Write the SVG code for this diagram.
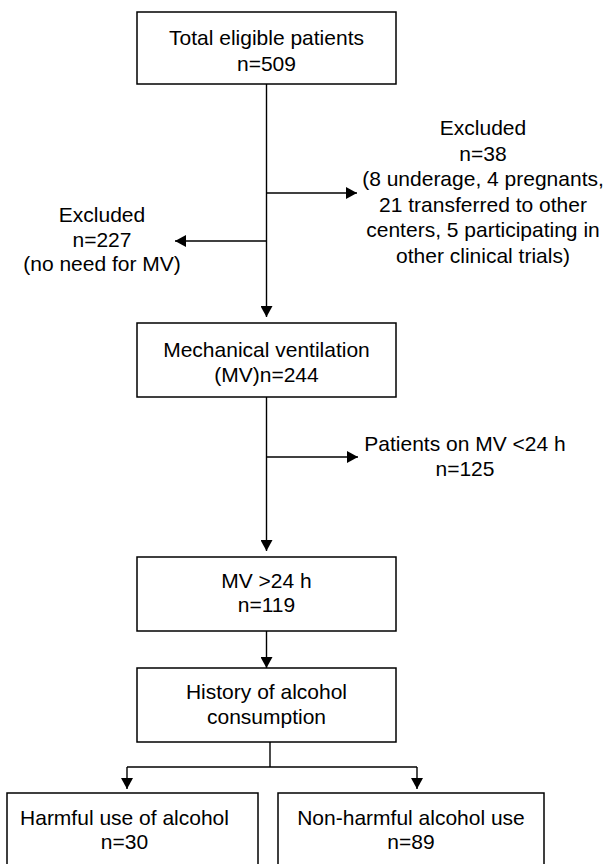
<svg xmlns="http://www.w3.org/2000/svg" width="607" height="864" viewBox="0 0 607 864">
<style>
.box{fill:#fff;stroke:#000;stroke-width:1.5}
.t{font-family:"Liberation Sans",Arial,Helvetica,sans-serif;font-size:21px;fill:#000;text-anchor:middle}
.c{fill:none;stroke:#000;stroke-width:1.4}
</style>
<defs>
<marker id="ah" viewBox="0 0 11 12" refX="11" refY="6" markerWidth="11" markerHeight="12" markerUnits="userSpaceOnUse" orient="auto">
<path d="M0,0 L11,6 L0,12 z" fill="#000"/>
</marker>
</defs>
<rect width="607" height="864" fill="#fff"/>
<g id="connectors">
<path class="c" d="M266.5,84 V317" marker-end="url(#ah)"/>
<path class="c" d="M266.5,193 H357" marker-end="url(#ah)"/>
<path class="c" d="M266.5,241 H175" marker-end="url(#ah)"/>
<path class="c" d="M266.5,397 V551" marker-end="url(#ah)"/>
<path class="c" d="M266.5,457 H358" marker-end="url(#ah)"/>
<path class="c" d="M266.5,631 V668" marker-end="url(#ah)"/>
<path class="c" d="M270,742 V767"/>
<path class="c" d="M127,767 H417"/>
<path class="c" d="M127,767 V789" marker-end="url(#ah)"/>
<path class="c" d="M417,767 V789" marker-end="url(#ah)"/>
</g>
<g id="total">
<rect class="box" x="137" y="12" width="259" height="72"/>
<text class="t" x="266.5" y="45">Total eligible patients</text>
<text class="t" x="266.5" y="71">n=509</text>
</g>
<g id="excluded38">
<text class="t" x="483" y="135">Excluded</text>
<text class="t" x="483" y="160.5">n=38</text>
<text class="t" x="483" y="186">(8 underage, 4 pregnants,</text>
<text class="t" x="483" y="211.5">21 transferred to other</text>
<text class="t" x="483" y="237">centers, 5 participating in</text>
<text class="t" x="483" y="262.5">other clinical trials)</text>
</g>
<g id="excluded227">
<text class="t" x="102" y="222">Excluded</text>
<text class="t" x="102" y="246.5">n=227</text>
<text class="t" x="102" y="271">(no need for MV)</text>
</g>
<g id="mv">
<rect class="box" x="137" y="323" width="259" height="74"/>
<text class="t" x="266.5" y="357">Mechanical ventilation</text>
<text class="t" x="266.5" y="382">(MV)n=244</text>
</g>
<g id="mvless24">
<text class="t" x="465" y="451">Patients on MV &lt;24 h</text>
<text class="t" x="465" y="476">n=125</text>
</g>
<g id="mvmore24">
<rect class="box" x="137" y="557" width="259" height="74"/>
<text class="t" x="266.5" y="588">MV &gt;24 h</text>
<text class="t" x="266.5" y="612">n=119</text>
</g>
<g id="history">
<rect class="box" x="137" y="668" width="259" height="74"/>
<text class="t" x="266.5" y="699">History of alcohol</text>
<text class="t" x="266.5" y="724">consumption</text>
</g>
<g id="harmful">
<rect class="box" x="7" y="793" width="251" height="80"/>
<text class="t" x="124.5" y="825">Harmful use of alcohol</text>
<text class="t" x="124.5" y="849">n=30</text>
</g>
<g id="nonharmful">
<rect class="box" x="278" y="793" width="266" height="80"/>
<text class="t" x="411" y="825">Non-harmful alcohol use</text>
<text class="t" x="411" y="849">n=89</text>
</g>
</svg>
